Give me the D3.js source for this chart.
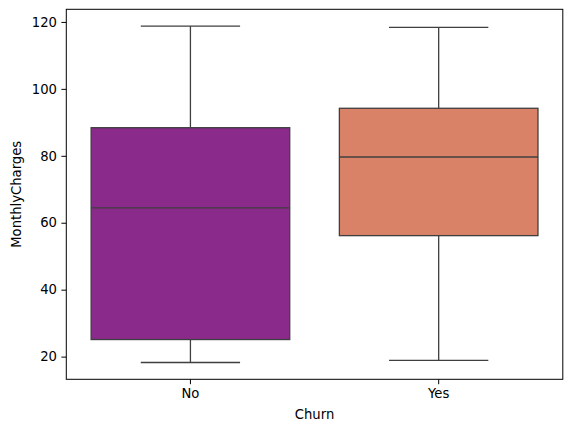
<!DOCTYPE html>
<html><head><meta charset="utf-8">
<script src="https://cdn.jsdelivr.net/npm/d3@7"></script>
<style>body{margin:0;background:#fff}svg{display:block}text{font-family:"DejaVu Sans",sans-serif}</style>
</head><body><svg id="c" width="571" height="432"></svg>
<script>
const categories = ["No", "Yes"];
const whiskerLow = [18.25, 18.85];
const q1 = [25.1, 56.15];
const median = [64.43, 79.65];
const q3 = [88.4, 94.2];
const whiskerHigh = [118.75, 118.35];
const colors = ["#8a2a8a", "#d98268"];
const yTicks = [20, 40, 60, 80, 100, 120];

const svg = d3.select("#c");
const L = 66.3, R = 562.8, T = 9.3, B = 379.3;
const lo = d3.min(whiskerLow), hi = d3.max(whiskerHigh), m = (hi - lo) * 0.05;
const y = d3.scaleLinear().domain([lo - m, hi + m]).range([B, T]);
const x = d3.scaleBand().domain(categories).range([L, R]).padding(0);
const bw = x.bandwidth() * 0.8;
const line = "#3f3f3f", lw = 1.3;
const data = categories.map((c, i) => ({c, lo: whiskerLow[i], q1: q1[i], med: median[i], q3: q3[i], hi: whiskerHigh[i], col: colors[i]}));

const g = svg.append("g");
data.forEach(d => {
  const cx = x(d.c) + x.bandwidth() / 2;
  // whiskers
  g.append("line").attr("x1", cx).attr("x2", cx).attr("y1", y(d.q3)).attr("y2", y(d.hi)).attr("stroke", line).attr("stroke-width", lw);
  g.append("line").attr("x1", cx).attr("x2", cx).attr("y1", y(d.q1)).attr("y2", y(d.lo)).attr("stroke", line).attr("stroke-width", lw);
  g.append("line").attr("x1", cx - bw / 4).attr("x2", cx + bw / 4).attr("y1", y(d.hi)).attr("y2", y(d.hi)).attr("stroke", line).attr("stroke-width", lw);
  g.append("line").attr("x1", cx - bw / 4).attr("x2", cx + bw / 4).attr("y1", y(d.lo)).attr("y2", y(d.lo)).attr("stroke", line).attr("stroke-width", lw);
  g.append("rect").attr("x", cx - bw / 2).attr("width", bw).attr("y", y(d.q3)).attr("height", y(d.q1) - y(d.q3))
    .attr("fill", d.col).attr("stroke", line).attr("stroke-width", lw);
  g.append("line").attr("x1", cx - bw / 2).attr("x2", cx + bw / 2).attr("y1", y(d.med)).attr("y2", y(d.med)).attr("stroke", line).attr("stroke-width", lw);
});

// frame
svg.append("rect").attr("x", L).attr("y", T).attr("width", R - L).attr("height", B - T)
  .attr("fill", "none").attr("stroke", "#000").attr("stroke-width", 1);

const fs = "13.2px";
const ya = svg.append("g").attr("transform", `translate(${L},0)`)
  .call(d3.axisLeft(y).tickValues(yTicks).tickSize(4.9).tickPadding(4.5).tickFormat(d3.format("d")));
const xa = svg.append("g").attr("transform", `translate(0,${B})`)
  .call(d3.axisBottom(x).tickSize(4.9).tickPadding(4.5));
[ya, xa].forEach(a => {
  a.select(".domain").remove();
  a.selectAll("line").attr("stroke", "#000").attr("stroke-width", 1);
  a.selectAll("text").attr("fill", "#000").style("font-size", fs).style("font-family", "DejaVu Sans");
});

svg.append("text").attr("x", (L + R) / 2).attr("y", 419).attr("text-anchor", "middle")
  .style("font-size", fs).text("Churn");
svg.append("text").attr("transform", `translate(21,${(T + B) / 2}) rotate(-90)`).attr("text-anchor", "middle")
  .style("font-size", fs).text("MonthlyCharges");
</script></body></html>
